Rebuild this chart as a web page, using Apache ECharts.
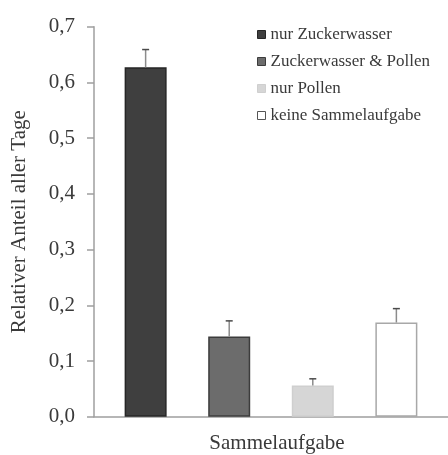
<!DOCTYPE html>
<html>
<head>
<meta charset="utf-8">
<script src="https://cdn.jsdelivr.net/npm/echarts@6/dist/echarts.min.js"></script>
<style>
  html, body { margin: 0; padding: 0; background: #fff; }
  #chart { width: 448px; height: 455px; }
</style>
</head>
<body>
<div id="chart"></div>
<script>
// Anteil der Tage je Sammelaufgabe (Mittelwert ± Fehler)
const category = ['Sammelaufgabe'];
const seriesNames = ['nur Zuckerwasser', 'Zuckerwasser & Pollen', 'nur Pollen', 'keine Sammelaufgabe'];
const meanValues = [0.627, 0.144, 0.056, 0.169];
const errorValues = [0.032, 0.028, 0.012, 0.025];
const yTicks = ['0,0', '0,1', '0,2', '0,3', '0,4', '0,5', '0,6', '0,7'];

const FONT = '"Liberation Serif", "Times New Roman", serif';
const TEXT = '#3a3a3a';
const AXIS = '#9f9f9f';
const BAR_W = 42;
const BAR_GAP = 0.99;

const fills = ['#3f3f3f', '#6c6c6c', '#d6d6d6', '#ffffff'];
const borders = ['#262626', '#3c3c3c', '#cfcfcf', '#a8a8a8'];

const barSeries = seriesNames.map((name, i) => ({
  name: name,
  type: 'bar',
  barWidth: BAR_W,
  barGap: (BAR_GAP * 100) + '%',
  data: [meanValues[i]],
  itemStyle: { color: fills[i], borderColor: borders[i], borderWidth: 1.5 },
  emphasis: { disabled: true },
  z: 2
}));

// Fehlerbalken: nach oben gerichteter Strich mit Querstrich
const errorSeries = {
  type: 'custom',
  name: 'Fehler',
  data: seriesNames.map((n, i) => [0, meanValues[i], errorValues[i], i]),
  renderItem: function (params, api) {
    const idx = api.value(3);
    const base = api.coord([api.value(0), api.value(1)]);
    const top = api.coord([api.value(0), api.value(1) + api.value(2)]);
    const step = BAR_W * (1 + BAR_GAP);
    const x = base[0] + (idx - 1.5) * step;
    return {
      type: 'group',
      children: [
        { type: 'line', shape: { x1: x, y1: base[1], x2: x, y2: top[1] },
          style: { stroke: '#8c8c8c', lineWidth: 1.5 } },
        { type: 'line', shape: { x1: x - 3.5, y1: top[1], x2: x + 3.5, y2: top[1] },
          style: { stroke: '#4a4a4a', lineWidth: 1.5 } }
      ]
    };
  },
  z: 3,
  silent: true
};

const chart = echarts.init(document.getElementById('chart'), null, { renderer: 'canvas' });
chart.setOption({
  animation: false,
  backgroundColor: '#ffffff',
  textStyle: { fontFamily: FONT },
  grid: { left: 94, top: 26.7, bottom: 38.3, right: -2, containLabel: false },
  legend: {
    orient: 'vertical',
    left: 257,
    top: 26,
    padding: 0,
    itemWidth: 8,
    itemHeight: 8,
    itemGap: 10,
    icon: 'rect',
    selectedMode: false,
    textStyle: { fontFamily: FONT, fontSize: 17, color: TEXT, lineHeight: 17 },
    data: seriesNames.map((n, i) => ({
      name: n,
      itemStyle: { color: fills[i], borderColor: i === 3 ? '#555' : borders[i], borderWidth: 1 }
    }))
  },
  xAxis: {
    type: 'category',
    data: category,
    axisLine: { lineStyle: { color: AXIS, width: 1.5 } },
    axisTick: { show: false },
    axisLabel: { fontFamily: FONT, fontSize: 21, color: TEXT, margin: 16, padding: [0, 0, 0, 12] }
  },
  yAxis: {
    type: 'value',
    min: 0,
    max: 0.7,
    interval: 0.1,
    name: 'Relativer Anteil aller Tage',
    nameLocation: 'middle',
    nameRotate: 90,
    nameGap: 64,
    nameTextStyle: { fontFamily: FONT, fontSize: 21, color: TEXT },
    splitLine: { show: false },
    axisLine: { show: true, lineStyle: { color: AXIS, width: 1.5 } },
    axisTick: { show: true, inside: false, length: 7, lineStyle: { color: AXIS, width: 1.5 } },
    axisLabel: {
      fontFamily: FONT, fontSize: 21, color: TEXT, margin: 19,
      formatter: function (v) { return yTicks[Math.round(v * 10)]; }
    }
  },
  series: barSeries.concat([errorSeries])
});
</script>
</body>
</html>
